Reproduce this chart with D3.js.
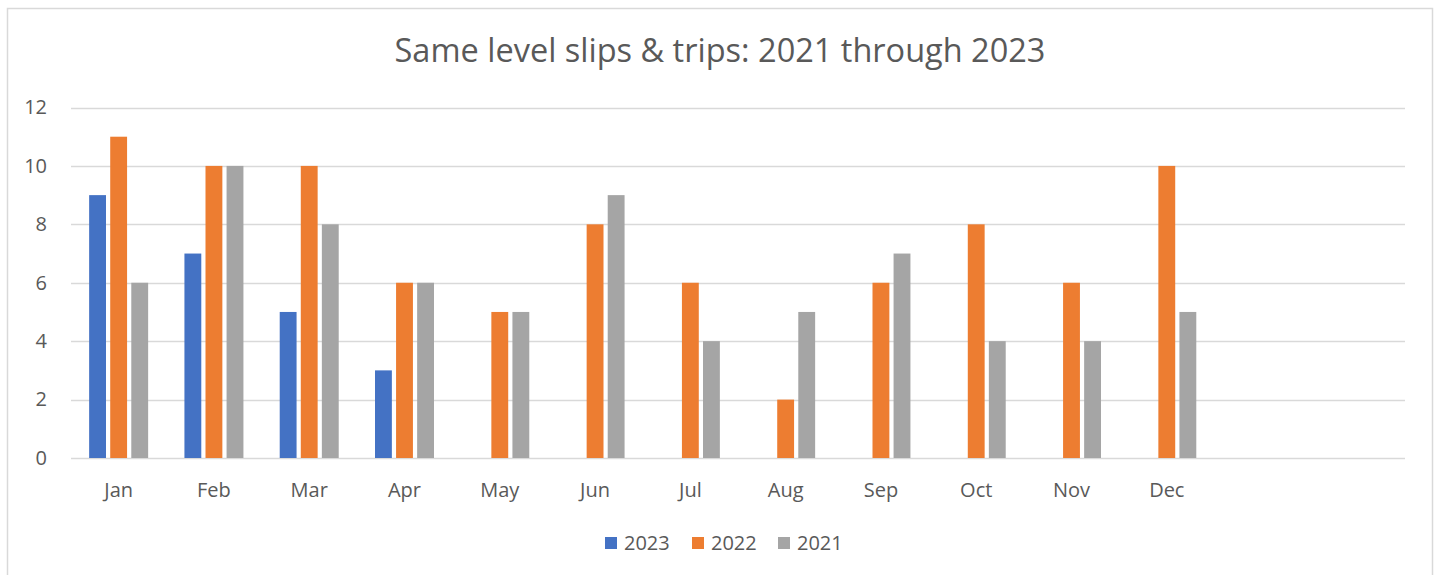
<!DOCTYPE html>
<html>
<head>
<meta charset="utf-8">
<script src="https://cdn.jsdelivr.net/npm/d3@7"></script>
<style>
  body { margin: 0; background: #fff; }
  text { font-family: "Open Sans", "Noto Sans", sans-serif; fill: #595959; }
</style>
</head>
<body>
<svg id="chart" width="1434" height="575"></svg>
<script>
// chart data
var months = ["Jan", "Feb", "Mar", "Apr", "May", "Jun", "Jul", "Aug", "Sep", "Oct", "Nov", "Dec"];
var num_slots = 14; // axis keeps two empty categories after Dec
var series_names = ["2023", "2022", "2021"];
var series_colors = ["#4472C4", "#ED7D31", "#A5A5A5"];
var values_2023 = [9, 7, 5, 3, null, null, null, null, null, null, null, null];
var values_2022 = [11, 10, 10, 6, 5, 8, 6, 2, 6, 8, 6, 10];
var values_2021 = [6, 10, 8, 6, 5, 9, 4, 5, 7, 4, 4, 5];
var y_ticks = [0, 2, 4, 6, 8, 10, 12];

var g_series = [values_2023, values_2022, values_2021];

var svg = d3.select("#chart");

// outer frame
svg.append("rect")
    .attr("x", 7.5).attr("y", 8.5).attr("width", 1425).attr("height", 580)
    .attr("style", "fill:none; stroke:#D9D9D9; stroke-width:1.5");

// title
svg.append("text")
    .attr("x", 720).attr("y", 62)
    .attr("text-anchor", "middle")
    .attr("font-size", "32.5px")
    .text("Same level slips & trips: 2021 through 2023");

// scales
var x = d3.scaleBand().domain(d3.range(num_slots)).range([71, 1405]).paddingInner(0).paddingOuter(0);
var y = d3.scaleLinear().domain([0, 12]).range([458, 107.5]);
var xs = d3.scaleBand().domain(d3.range(series_names.length)).range([-29.5, 29.5]).paddingInner(0.2);

// gridlines
svg.append("g").selectAll("line").data(y_ticks).join("line")
    .attr("x1", 71).attr("x2", 1405)
    .attr("y1", d => Math.round(y(d)) + 0.5).attr("y2", d => Math.round(y(d)) + 0.5)
    .attr("style", "stroke:#D9D9D9; stroke-width:1.5");

// y axis labels
var y_axis = svg.append("g").attr("transform", "translate(57,0)")
    .call(d3.axisLeft(y).tickValues(y_ticks).tickSize(0).tickPadding(10));
y_axis.select(".domain").remove();
y_axis.selectAll("text").attr("font-size", "20px").attr("font-family", null).attr("fill", "#595959");

// x axis labels
var x_axis = svg.append("g").attr("transform", "translate(0,475)")
    .call(d3.axisBottom(x).tickFormat(i => months[i] || "").tickSize(0).tickPadding(8));
x_axis.select(".domain").remove();
x_axis.selectAll("text").attr("font-size", "20px").attr("font-family", null).attr("fill", "#595959");

// bars
g_series.forEach(function (vals, s) {
    var data = vals.map((v, i) => ({ i: i, v: v })).filter(d => d.v != null);
    svg.append("g").selectAll("rect").data(data).join("rect")
        .attr("x", d => x(d.i) + x.bandwidth() / 2 + xs(s))
        .attr("width", xs.bandwidth())
        .attr("y", d => y(d.v))
        .attr("height", d => y(0) - y(d.v))
        .attr("fill", series_colors[s]);
});

// legend
var legend_x = [605, 692, 778];
var legend = svg.append("g").selectAll("g").data(series_names).join("g")
    .attr("transform", (d, i) => "translate(" + legend_x[i] + ",537)");
legend.append("rect").attr("width", 12).attr("height", 12).attr("fill", (d, i) => series_colors[i]);
legend.append("text").attr("x", 19).attr("y", 13).attr("font-size", "20px").text(d => d);
</script>
</body>
</html>
